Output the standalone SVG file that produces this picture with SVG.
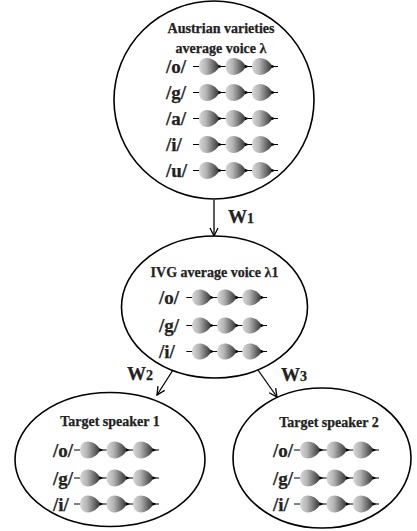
<svg xmlns="http://www.w3.org/2000/svg" xmlns:xlink="http://www.w3.org/1999/xlink" width="417" height="531" viewBox="0 0 417 531">
<style>
.node{fill:none;stroke:#000;stroke-width:1.6}
.t{font-family:"Liberation Serif","Times New Roman",serif;font-weight:bold;fill:#222;stroke:#222;stroke-width:0.25}
.title{font-size:14px;text-anchor:middle}
.lab{font-size:19px}
.w{font-size:19px}
.ws{font-size:14px}
.con{fill:none;stroke:#000;stroke-width:1.3}
.sm{stroke:#000;stroke-width:1;fill:none}
</style>
<defs>
<linearGradient id="g" x1="0" x2="1" y1="0" y2="0">
<stop offset="0" stop-color="#d8d8d8"/>
<stop offset="0.35" stop-color="#b4b4b4"/>
<stop offset="1" stop-color="#2e2e2e"/>
</linearGradient>
<marker id="ah" markerWidth="10" markerHeight="10" refX="9" refY="5" orient="auto" markerUnits="userSpaceOnUse">
<path d="M1,1 L9,5 L1,9" fill="none" stroke="#000" stroke-width="1.3"/>
</marker>
<path id="blob" d="M0,0 C0,-11 14,-11.5 20.5,0 C14,11.5 0,11 0,0Z" fill="url(#g)"/>
<path id="tri" d="M0,-1.8 L4,0 L0,1.8Z" fill="#000"/>
<g id="chain">
<line class="sm" x1="-6" y1="0" x2="1" y2="0"/>
<line class="sm" x1="18" y1="0" x2="27" y2="0"/>
<line class="sm" x1="44.5" y1="0" x2="53.5" y2="0"/>
<line class="sm" x1="71" y1="0" x2="79" y2="0"/>
<use xlink:href="#blob" x="0" y="0"/>
<use xlink:href="#blob" x="26.5" y="0"/>
<use xlink:href="#blob" x="53" y="0"/>
<use xlink:href="#tri" x="19.5" y="0"/>
<use xlink:href="#tri" x="46" y="0"/>
<use xlink:href="#tri" x="72.5" y="0"/>
</g>
</defs>
<rect width="417" height="531" fill="#fff"/>

<g id="connectors">
<line class="con" x1="214" y1="200" x2="214" y2="236" marker-end="url(#ah)"/>
<line class="con" x1="173" y1="370" x2="157" y2="395" marker-end="url(#ah)"/>
<line class="con" x1="258" y1="370" x2="277" y2="397" marker-end="url(#ah)"/>
<text class="t w" x="228" y="223">W<tspan class="ws">1</tspan></text>
<text class="t w" x="127" y="380">W<tspan class="ws">2</tspan></text>
<text class="t w" x="281" y="381">W<tspan class="ws">3</tspan></text>
</g>

<g id="austrian">
<ellipse class="node" cx="214" cy="100" rx="100" ry="99"/>
<text class="t title" x="221" y="33">Austrian varieties</text>
<text class="t title" x="221" y="53">average voice λ</text>
<text class="t lab" x="166" y="73">/o/</text>
<text class="t lab" x="166" y="99">/g/</text>
<text class="t lab" x="166" y="125">/a/</text>
<text class="t lab" x="166" y="151">/i/</text>
<text class="t lab" x="166" y="177">/u/</text>
<use xlink:href="#chain" x="199" y="66.5"/>
<use xlink:href="#chain" x="199" y="92.5"/>
<use xlink:href="#chain" x="199" y="118.5"/>
<use xlink:href="#chain" x="199" y="144.5"/>
<use xlink:href="#chain" x="199" y="170.5"/>
</g>

<g id="ivg">
<ellipse class="node" cx="214.5" cy="307" rx="93" ry="71"/>
<text class="t title" x="214.5" y="277">IVG average voice λ1</text>
<text class="t lab" x="159" y="304">/o/</text>
<text class="t lab" x="159" y="332">/g/</text>
<text class="t lab" x="159" y="358">/i/</text>
<use xlink:href="#chain" transform="translate(192,297.5) scale(0.95)"/>
<use xlink:href="#chain" transform="translate(192,325.5) scale(0.95)"/>
<use xlink:href="#chain" transform="translate(192,351.5) scale(0.95)"/>
</g>

<g id="speaker1">
<ellipse class="node" cx="110" cy="459.5" rx="95" ry="67"/>
<text class="t title" x="110" y="426">Target speaker 1</text>
<text class="t lab" x="53" y="456.5">/o/</text>
<text class="t lab" x="53" y="484.5">/g/</text>
<text class="t lab" x="53" y="510.5">/i/</text>
<use xlink:href="#chain" x="80" y="450"/>
<use xlink:href="#chain" x="80" y="478"/>
<use xlink:href="#chain" x="80" y="504"/>
</g>

<g id="speaker2">
<ellipse class="node" cx="322" cy="458" rx="89" ry="70"/>
<text class="t title" x="329" y="427">Target speaker 2</text>
<text class="t lab" x="273" y="456.5">/o/</text>
<text class="t lab" x="273" y="484.5">/g/</text>
<text class="t lab" x="273" y="510.5">/i/</text>
<use xlink:href="#chain" x="300" y="450"/>
<use xlink:href="#chain" x="300" y="478"/>
<use xlink:href="#chain" x="300" y="504"/>
</g>
</svg>
